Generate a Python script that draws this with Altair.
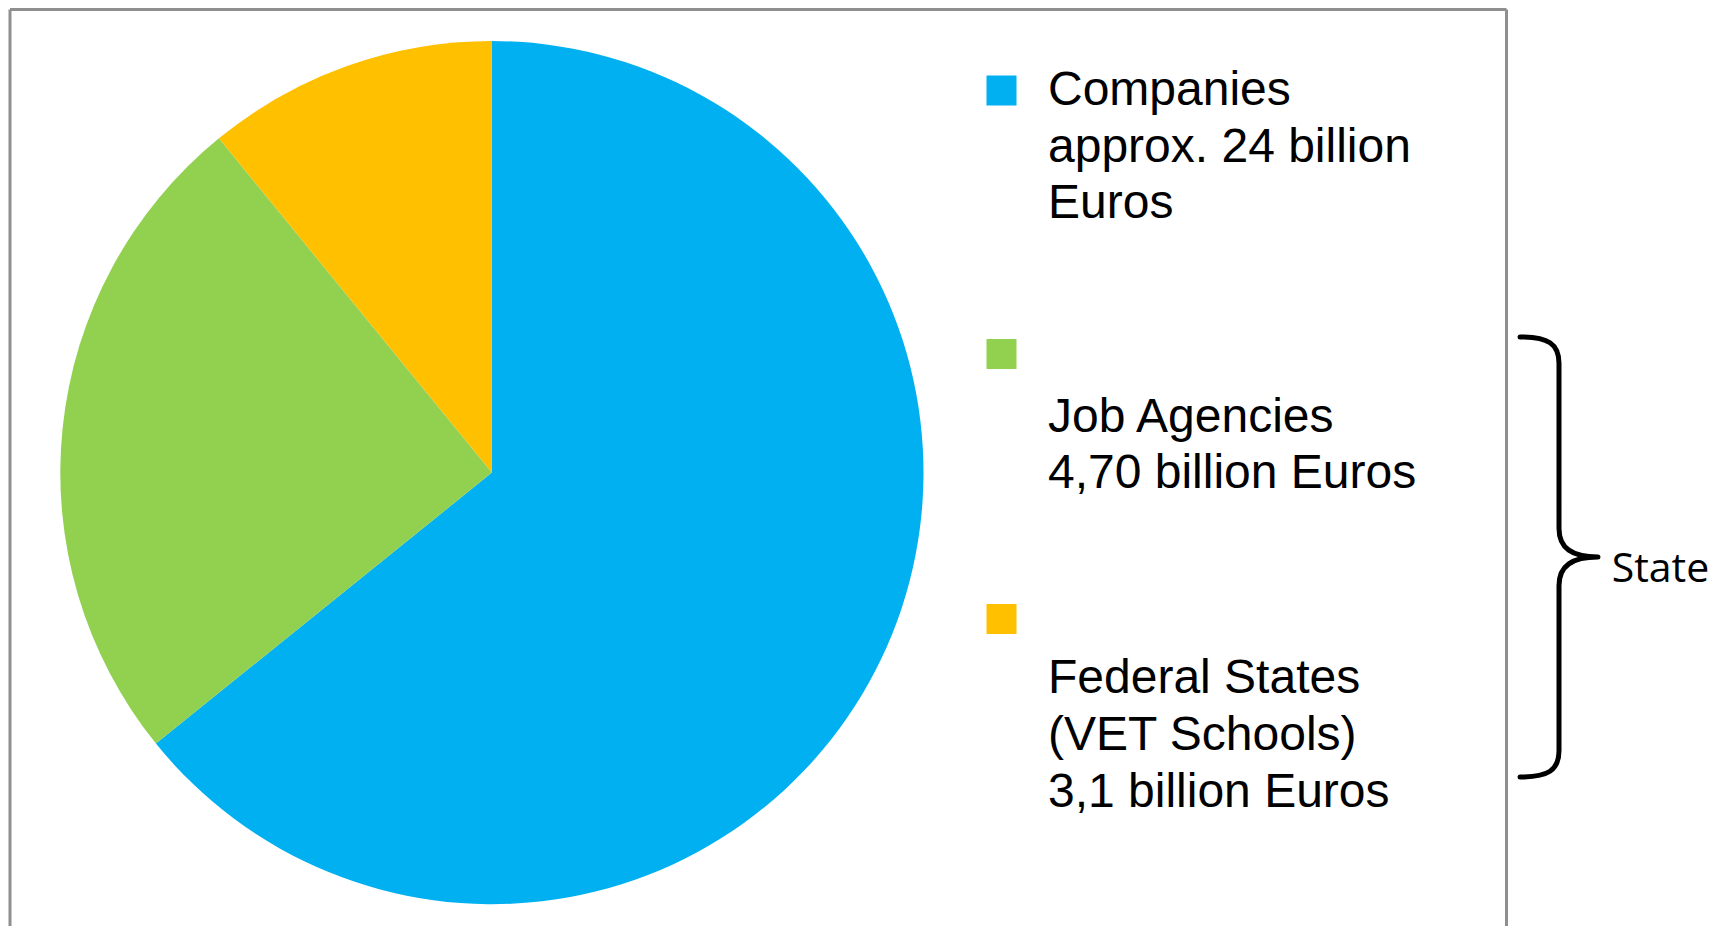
import altair as alt
import pandas as pd

# ---- data ----
categories = ["Companies", "Job Agencies", "Federal States"]
shares = [64.2, 24.9, 10.9]          # slice sizes (%) estimated from the angles
labels = [
    "Companies\napprox. 24 billion\nEuros",
    "\nJob Agencies\n4,70 billion Euros",
    "\nFederal States\n(VET Schools)\n3,1 billion Euros",
]
colors = ["#00B0F0", "#92D050", "#FFC000"]
bracket_label = "State"

df = pd.DataFrame({
    "category": categories,
    "share": shares,
    "label": labels,
    "rank": list(range(len(categories))),
})

W, H = 1715, 918
color_scale = alt.Scale(domain=categories, range=colors)
base = alt.Chart(df)

pie = base.mark_arc(radius=431.6, stroke=None).encode(
    theta=alt.Theta("share:Q", stack=True),
    color=alt.Color("category:N", scale=color_scale, legend=None),
    order=alt.Order("rank:Q"),
    x=alt.value(483.9),
    y=alt.value(464.6),
)

layers = [pie]

# legend: coloured squares + multi-line labels
square_y = [82.5, 346, 611]
text_y = [97, 367, 628.5]
for i, cat in enumerate(categories):
    sq = base.transform_filter(alt.datum.category == cat).mark_square(
        size=900, opacity=1, filled=True
    ).encode(
        color=alt.Color("category:N", scale=color_scale, legend=None),
        x=alt.value(993.5),
        y=alt.value(square_y[i]),
    )
    tx = base.transform_filter(alt.datum.category == cat).mark_text(
        align="left", baseline="alphabetic", lineBreak="\n", lineHeight=56.7,
        fontSize=48, font="Liberation Sans", color="black",
    ).encode(
        text="label:N",
        x=alt.value(1040),
        y=alt.value(text_y[i]),
    )
    layers += [sq, tx]

one = alt.Chart(alt.Data(values=[{"k": 1}]))

# frame (gray border, top/left/right)
frame_col = "#8F8F8F"
top_rule = one.mark_rule(color=frame_col, strokeWidth=3).encode(
    x=alt.value(2), x2=alt.value(1498.5), y=alt.value(1.5))
left_rule = one.mark_rule(color=frame_col, strokeWidth=3).encode(
    x=alt.value(2), y=alt.value(1.5), y2=alt.value(H + 10))
right_rule = one.mark_rule(color=frame_col, strokeWidth=3).encode(
    x=alt.value(1498.5), y=alt.value(1.5), y2=alt.value(H + 10))
layers += [top_rule, left_rule, right_rule]

# curly brace grouping the two public funders
brace_path = (
    "M-0.177,-1 C-0.05,-1 0,-0.97 0,-0.88 L0,-0.13 C0,-0.04 0.06,0 0.177,0 "
    "M0.177,0 C0.06,0 0,0.04 0,0.13 L0,0.88 C0,0.97 -0.05,1 -0.177,1"
)
brace = one.mark_point(
    shape=brace_path, size=440 * 440, filled=False, stroke="black",
    strokeWidth=5, opacity=1, strokeCap="round", strokeJoin="round",
).encode(x=alt.value(1551), y=alt.value(549))
state_txt = one.mark_text(
    text=bracket_label, align="left", baseline="alphabetic",
    fontSize=41, font="Open Sans", color="black",
).encode(x=alt.value(1603.7), y=alt.value(573.7))
layers += [brace, state_txt]

chart = alt.layer(*layers).properties(
    width=W, height=H, padding=0,
    autosize=alt.AutoSizeParams(type="none"),
).configure_view(strokeWidth=0)

chart.save("out.html", embed_options={"renderer": "svg", "actions": False})
